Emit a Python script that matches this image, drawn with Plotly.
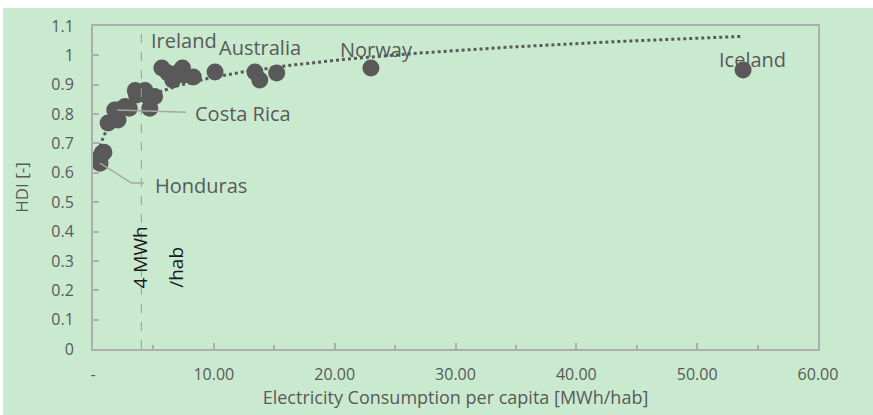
import numpy as np
import plotly.graph_objects as go

# Electricity consumption per capita [MWh/hab] and HDI
consumption = [0.58, 0.62, 0.75, 0.90, 1.25, 2.07, 1.80, 2.00, 2.65, 3.00,
               3.50, 3.60, 4.30, 4.55, 4.70, 5.10, 5.70, 6.20, 6.60, 7.00,
               7.40, 7.60, 8.30, 10.10, 13.40, 13.80, 15.20, 23.00, 53.80]
hdi = [0.633, 0.655, 0.667, 0.670, 0.770, 0.780, 0.814, 0.814, 0.826, 0.820,
       0.880, 0.865, 0.880, 0.860, 0.820, 0.860, 0.957, 0.940, 0.916, 0.940,
       0.957, 0.933, 0.926, 0.943, 0.943, 0.916, 0.940, 0.957, 0.950]

label_names = ["Honduras", "Costa Rica", "Ireland", "Australia", "Norway", "Iceland"]
label_x = [0.58, 2.00, 5.70, 10.10, 23.00, 53.80]
label_y = [0.633, 0.814, 0.957, 0.943, 0.957, 0.950]

x_ticks = [0, 10, 20, 30, 40, 50, 60]
x_ticktext = ["-", "10.00", "20.00", "30.00", "40.00", "50.00", "60.00"]
y_ticks = [0, 0.1, 0.2, 0.3, 0.4, 0.5, 0.6, 0.7, 0.8, 0.9, 1, 1.1]
y_ticktext = ["0", "0.1", "0.2", "0.3", "0.4", "0.5", "0.6", "0.7", "0.8", "0.9", "1", "1.1"]

threshold = 4  # MWh/hab

GREY = "#595959"
BG = "#CAEACF"
AXIS = "#AEAEAE"
FONT = "Open Sans"

# logarithmic trend line fitted to the data
cx = np.array(consumption)
a, b = np.polyfit(np.log(cx), np.array(hdi), 1)
tx = np.linspace(cx.min(), cx.max(), 200)
ty = a * np.log(tx) + b

fig = go.Figure()
fig.add_trace(go.Scatter(x=tx, y=ty, mode="lines",
                         line=dict(color=GREY, width=3, dash="dot"),
                         hoverinfo="skip", showlegend=False))
fig.add_trace(go.Scatter(x=consumption, y=hdi, mode="markers",
                         marker=dict(color=GREY, size=17, line=dict(width=0)),
                         showlegend=False))

# threshold line
fig.add_shape(type="line", x0=threshold, x1=threshold, y0=0, y1=1.1,
              xref="x", yref="y", line=dict(color="#9A9A9A", width=1, dash="dash"))

# leader lines
hx, hy = label_x[0], label_y[0]
fig.add_shape(type="path", xref="x", yref="y",
              path=f"M {hx},{hy} L 3.2,0.565 L 4.2,0.565",
              line=dict(color="#A6A6A6", width=1.5))
cxl, cyl = label_x[1], label_y[1]
fig.add_shape(type="line", xref="x", yref="y", x0=cxl, y0=cyl, x1=7.7, y1=0.806,
              line=dict(color="#A6A6A6", width=1.5))

ann = dict(showarrow=False, font=dict(family=FONT, size=20, color=GREY), xref="x", yref="y")
fig.add_annotation(text=label_names[0], x=5.0, y=0.558, xanchor="left", yanchor="middle", **ann)
fig.add_annotation(text=label_names[1], x=8.3, y=0.803, xanchor="left", yanchor="middle", **ann)
fig.add_annotation(text=label_names[2], x=4.6, y=1.052, xanchor="left", yanchor="middle", **ann)
fig.add_annotation(text=label_names[3], x=10.3, y=1.028, xanchor="left", yanchor="middle", **ann)
fig.add_annotation(text=label_names[4], x=20.3, y=1.02, xanchor="left", yanchor="middle", **ann)
fig.add_annotation(text=label_names[5], x=51.6, y=0.985, xanchor="left", yanchor="middle", **ann)

fig.add_annotation(text="4 MWh", x=3.85, y=0.31, textangle=-90, showarrow=False,
                   font=dict(family=FONT, size=19, color="#1a1a1a"), xref="x", yref="y")
fig.add_annotation(text="/hab", x=6.9, y=0.278, textangle=-90, showarrow=False,
                   font=dict(family=FONT, size=19, color="#1a1a1a"), xref="x", yref="y")

# green background panel (white strip at top)
fig.add_shape(type="rect", xref="paper", yref="paper", layer="below",
              x0=(3 - 93) / 725, x1=(880 - 93) / 725, y0=-0.25, y1=(349 - 8) / 323,
              fillcolor=BG, line=dict(width=0))

axis_common = dict(showgrid=False, zeroline=False, showline=True, mirror=True,
                   linecolor=AXIS, linewidth=2, ticks="inside", tickcolor=AXIS,
                   ticklen=6, tickwidth=1.5,
                   tickfont=dict(family=FONT, size=16, color=GREY))

fig.update_xaxes(range=[0, 60], tickvals=x_ticks, ticktext=x_ticktext,
                 ticklabelstandoff=10,
                 minor=dict(dtick=5, ticks="inside", ticklen=4, tickcolor=AXIS, tickwidth=1.5),
                 title=dict(text="Electricity Consumption per capita [MWh/hab]",
                            font=dict(family=FONT, size=18, color=GREY), standoff=5),
                 **axis_common)
fig.update_yaxes(range=[0, 1.1], tickvals=y_ticks, ticktext=y_ticktext,
                 ticklabelstandoff=14,
                 title=dict(text="HDI [-]", font=dict(family=FONT, size=17, color=GREY), standoff=18),
                 **axis_common)

fig.update_layout(width=873, height=415,
                  margin=dict(l=93, r=55, t=26, b=66),
                  paper_bgcolor="white", plot_bgcolor=BG,
                  showlegend=False)

fig.write_html("out.html", config={"displayModeBar": False},
               post_script="document.body.style.margin='0';")
